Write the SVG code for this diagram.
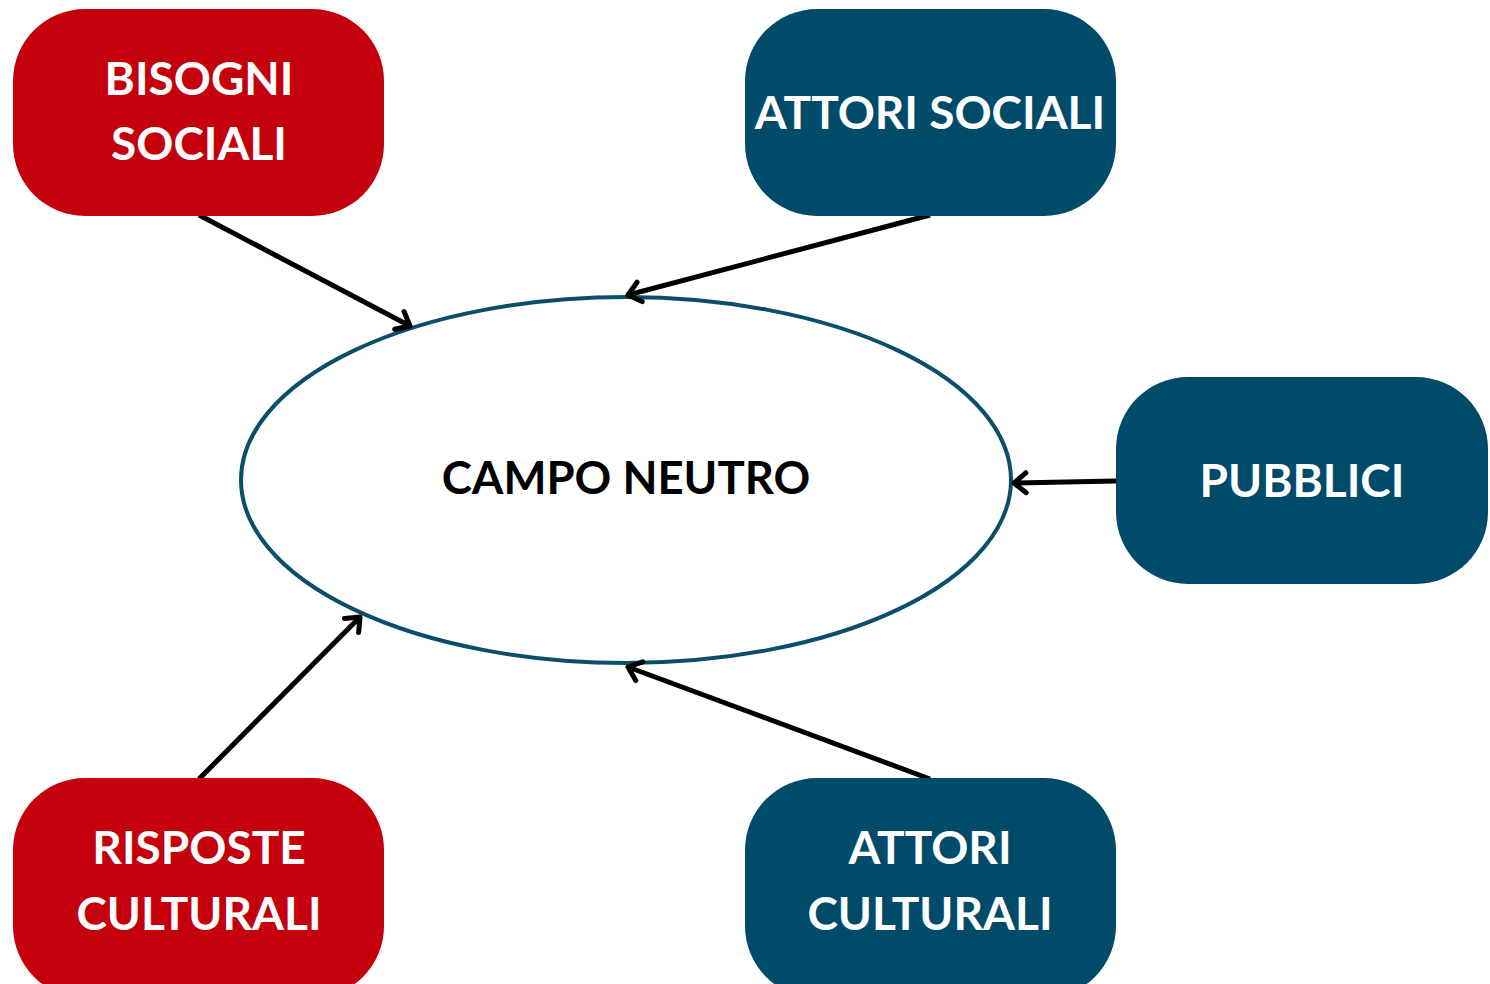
<svg xmlns="http://www.w3.org/2000/svg" width="1490" height="984" viewBox="0 0 1490 984">
<style>
.red{fill:#C3000B}
.blue{fill:#004B6A}
.lbl{font-family:Lato,"Open Sans","Liberation Sans",sans-serif;font-weight:700;font-size:46px;fill:#ffffff;text-anchor:middle}
.ctr{font-family:Lato,"Open Sans","Liberation Sans",sans-serif;font-weight:700;font-size:45.5px;fill:#000000;text-anchor:middle}
.conn{stroke:#000;stroke-width:5;fill:none;marker-end:url(#ah)}
</style>
<defs>
<marker id="ah" markerUnits="userSpaceOnUse" markerWidth="30" markerHeight="30" refX="27" refY="15" orient="auto" viewBox="0 0 30 30">
<path d="M15,5 L27,15 L15,25" fill="none" stroke="#000" stroke-width="5" stroke-linecap="round" stroke-linejoin="round"/>
</marker>
</defs>
<rect width="1490" height="984" fill="#ffffff"/>
<g id="campo-neutro">
<ellipse cx="626" cy="480" rx="385" ry="183" fill="#ffffff" stroke="#0C4D6B" stroke-width="4"/>
<text class="ctr" x="626" y="494">CAMPO NEUTRO</text>
</g>
<g id="connectors">
<line class="conn" x1="199" y1="215" x2="410" y2="326"/>
<line class="conn" x1="930" y1="215" x2="628" y2="295"/>
<line class="conn" x1="1116" y1="481" x2="1014" y2="483"/>
<line class="conn" x1="199" y1="779" x2="360" y2="617"/>
<line class="conn" x1="930" y1="779" x2="628" y2="667"/>
</g>
<g id="bisogni-sociali">
<rect class="red" x="13" y="9" width="371" height="207" rx="72"/>
<text class="lbl" x="199" y="95">BISOGNI</text>
<text class="lbl" x="199" y="160">SOCIALI</text>
</g>
<g id="attori-sociali">
<rect class="blue" x="745" y="9" width="371" height="207" rx="72"/>
<text class="lbl" x="930" y="129">ATTORI SOCIALI</text>
</g>
<g id="pubblici">
<rect class="blue" x="1116" y="377" width="372" height="207" rx="72"/>
<text class="lbl" x="1302" y="497">PUBBLICI</text>
</g>
<g id="risposte-culturali">
<rect class="red" x="13" y="778" width="371" height="220" rx="72"/>
<text class="lbl" x="199" y="864">RISPOSTE</text>
<text class="lbl" x="199" y="930">CULTURALI</text>
</g>
<g id="attori-culturali">
<rect class="blue" x="745" y="778" width="371" height="220" rx="72"/>
<text class="lbl" x="930" y="864">ATTORI</text>
<text class="lbl" x="930" y="930">CULTURALI</text>
</g>
</svg>
